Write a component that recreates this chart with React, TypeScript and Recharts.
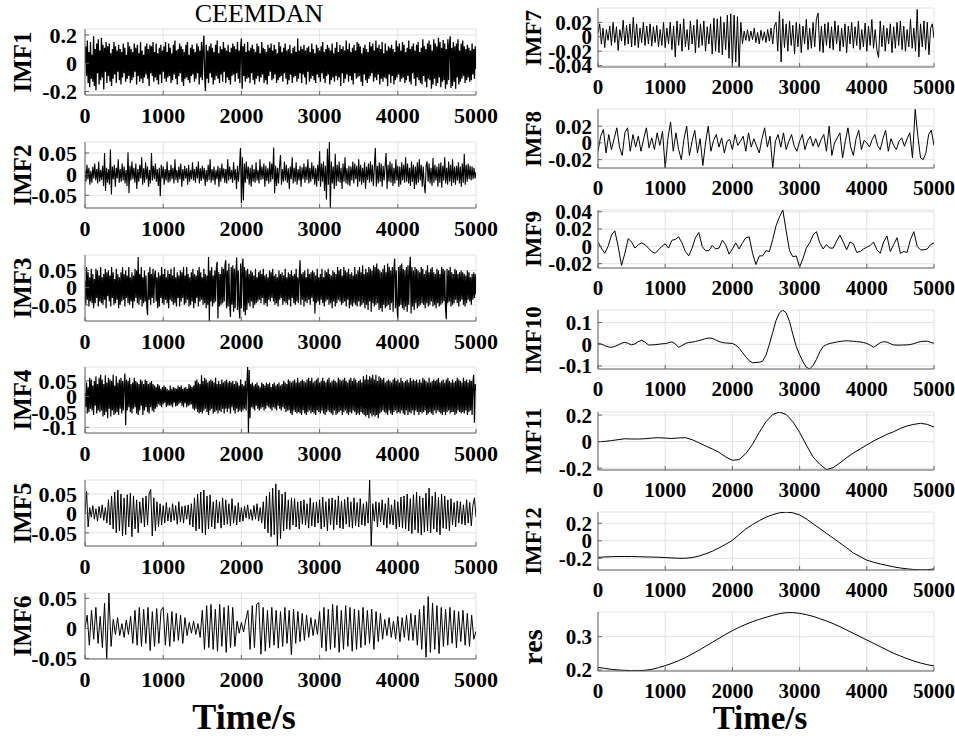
import React from "react";
import { LineChart, Line, XAxis, YAxis, CartesianGrid } from "recharts";

const FONT = '"Liberation Serif", "Times New Roman", serif';
const AXIS = "#666";
const T_END = 5000;
const timeTicks = [0, 1000, 2000, 3000, 4000, 5000];

// samples in units of 1e-3, evenly spaced over 0..5000 s
const imf1 = [
  0, 120, -90, 160, -140, 80, -170, 150, -110, 60,
  -130, 190, -160, 100, -190, 140, -70, 170, -150, 90,
  -120, 180, -100, 130, -185, 110, -60, 150, -140, 120,
  -90, 140, -130, 70, -160, 100, -110, 150, -80, 120,
  -140, 90, -60, 130, -120, 100, -150, 80, -100, 140,
  -70, 110, -130, 60, -110, 150, -90, 120, -140, 100,
  -120, 80, -100, 140, -60, 110, -150, 130, -90, 70,
  -130, 150, -110, 90, -140, 60, -100, 120, -80, 140,
  -110, 100, -160, 130, -70, 120, -90, 150, -130, 80,
  -100, 140, -120, 70, -150, 110, -80, 130, -140, 90,
  -60, 120, -110, 150, -130, 80, -100, 140, -90, 110,
  -140, 70, -120, 130, -80, 160, -110, 90, -150, 100,
  -90, 140, -70, 120, -130, 100, -160, 80, -110, 130,
  -100, 150, -120, 60, -140, 110, -90, 130, -80, 100,
  -130, 80, -110, 140, -70, 120, -150, 90, -100, 150,
  -120, 100, 195, -80, -195, 130, -110, 90, -140, 120,
  -70, 140, -100, 110, -150, 80, -120, 130, -90, 160,
  -110, 70, -140, 120, -80, 100, -130, 150, -60, 110,
  -140, 90, -100, 130, -120, 80, -150, 110, -90, 140,
  -80, 120, -130, 100, -70, 150, -110, 90, -140, 110,
  175, -180, 120, -90, 140, -130, 80, -110, 150, -100,
  90, -140, 110, -70, 130, -120, 100, -150, 80, -110,
  140, -90, 120, -130, 70, -100, 150, -80, 110, -140,
  100, -120, 80, -150, 130, -90, 110, -60, 140, -120,
  90, -110, 130, -80, 100, -140, 70, -120, 150, -100,
  120, -90, 80, -130, 110, -70, 140, -110, 90, -150,
  100, -120, 130, -80, 70, -140, 110, -100, 120, -90,
  80, -130, 175, -110, 90, -70, 120, -140, 100, -80,
  130, -100, 90, -150, 110, -60, 120, -130, 80, -110,
  140, -90, 100, -120, 70, -140, 130, -80, 110, -100,
  90, -130, 120, -70, 150, -110, 80, -140, 100, -90,
  130, -80, 110, -150, 90, -120, 140, -100, 70, -130,
  110, -90, 150, -120, 80, -100, 130, -160, 100, -70,
  120, -140, 90, -110, 160, -80, 100, -130, 140, -90,
  80, -120, 110, -150, 130, -70, 90, -110, 150, -100,
  140, -90, 120, -130, 70, -160, 110, -80, 130, -120,
  100, -140, 80, -110, 150, -90, 120, -70, 140, -130,
  90, -100, 160, -120, 110, -80, 130, -150, 100, -110,
  150, -130, 70, -100, 140, -110, 90, -160, 120, -80,
  110, -140, 130, -90, 100, -150, 80, -120, 160, -100,
  120, -80, 140, -130, 90, -110, 150, -100, 130, -140,
  80, -120, 110, -90, 160, -130, 100, -150, 120, -70,
  140, -110, 90, -160, 130, -100, 150, -120, 80, -140,
  110, -150, 170, -90, 120, -130, 100, -170, 140, -110,
  160, -120, 130, -180, 90, -150, 170, -110, 140, -160,
  120, -140, 180, -100, 150, -170, 110, -130, 165, -120,
  140, -180, 100, -150, 170, -120, 130, 190, -175, 110,
  -160, 150, -130, 120, -180, 140, -100, 170, -150, 90,
  -130, 140, -110, 160, -90, 120, -140, 100, -120, 130,
  -100, 110, -130, 90, -120, 140, -80, 100, -110, 120,
  -40,
];

const imf2 = [
  10, -18, 22, -12, 15, -25, 8, -20, 18, -10,
  25, -15, 12, -22, 30, -18, 10, -14, 20, -28,
  50, -40, 15, -20, 12, -25, 58, -48, 18, -12,
  22, -30, 15, -10, 35, -20, 12, -18, 25, -15,
  18, -22, 10, -28, 52, -45, 20, -15, 30, -12,
  15, -20, 25, -35, 12, -18, 22, -10, 40, -25,
  14, -20, 28, -12, 18, -30, 10, -22, 50, -15,
  20, -12, 25, -18, 12, -28, 15, -52, 22, -10,
  18, -25, 12, -15, 30, -20, 10, -18, 22, -12,
  15, -22, 35, -14, 10, -20, 18, -12, 25, -30,
  12, -16, 20, -10, 14, -25, 22, -18, 10, -12,
  28, -15, 12, -20, 18, -10, 30, -22, 14, -16,
  20, -12, 15, -28, 10, -18, 22, -14, 35, -20,
  12, -15, 18, -25, 10, -12, 20, -30, 15, -18,
  25, -10, 14, -20, 12, -22, 35, -15, 18, -12,
  10, -20, 28, -14, 12, -35, 20, -18, 15, 62,
  -68, 40, -62, 25, -20, 30, -12, 18, -25, 15,
  -30, 22, -18, 12, -20, 28, -15, 10, -22, 35,
  -14, 18, -12, 25, -30, 20, -16, 14, -22, 30,
  -18, 25, -12, 63, -45, 20, -28, 15, -22, 18,
  45, -25, 12, -18, 30, -15, 22, -20, 14, -35,
  18, -12, 40, -22, 15, -18, 28, -25, 12, -15,
  20, -30, 16, -12, 25, -20, 18, -14, 35, -22,
  15, -18, 28, -12, 20, -25, 14, -30, 22, -16,
  54, -30, 25, -18, 30, -40, 20, -60, 60, -25,
  76, -80, 30, -22, 18, -35, 48, -28, 22, -18,
  30, -20, 15, -35, 25, -18, 40, -22, 14, -25,
  20, -28, 18, -15, 30, -22, 25, -12, 20, -30,
  35, -18, 22, -25, 15, -20, 28, -35, 18, -14,
  25, -20, 30, -18, 22, -28, 15, 62, -30, 20,
  -22, 28, -18, 25, -30, 20, -15, 18, 50, -35,
  22, -18, 30, -20, 25, -28, 15, -22, 35, -15,
  20, -30, 18, -25, 28, -15, 22, -20, 40, -18,
  25, -22, 15, -28, 30, -18, 22, -35, 18, -25,
  28, -20, 35, -15, 22, -30, 18, -25, -45, 20,
  30, -18, 25, -22, 15, -28, 38, -20, 22, -15,
  18, -30, 25, -20, 28, -32, 20, -15, 40, -22,
  15, -25, 30, -18, 22, -28, 35, -20, 18, -25,
  20, -15, 28, -22, 18, -30, 25, -20, 48, -25,
  22, -18, 25, -12, 20, -15, 18, -12, 15, -10,
  5,
];

const imf3 = [
  20, -50, 60, -35, 45, -55, 30, -40, 55, -45,
  40, -60, 25, -45, 55, -30, 50, -55, 35, -40,
  60, -45, 30, -50, 40, -35, 55, -60, 45, -25,
  50, -40, 35, -55, 60, -30, 45, -50, 25, -45,
  55, -35, 40, -60, 30, -50, 45, -40, 60, -35,
  40, -55, 50, -30, 35, -45, 60, -50, 30, -40,
  45, -60, 35, -40, 55, -30, 50, -45, 89, -50,
  40, -35, 60, -55, 30, -45, 50, -40, 35, -55,
  -80, 45, -35, 60, -50, 40, -30, 55, -45, 35,
  50, -40, 30, -60, 45, -55, 35, -30, 60, -45,
  40, -50, 55, -35, 30, -45, 50, -60, 40, -35,
  55, -40, 35, -50, 60, -45, 30, -55, 45, -30,
  35, -55, 50, -40, 45, -30, 60, -50, 35, -45,
  60, -35, 40, -55, 30, -50, 45, -40, 55, -60,
  40, -45, 35, -30, 50, -55, 60, -40, 45, -35,
  30, -50, 55, -45, 40, -60, 35, -50, 89, -97,
  50, -40, 60, -55, 35, -45, 50, -40, 60, 75,
  -90, 45, -55, 40, -50, 60, -45, 55, -40, 65,
  80, -60, 50, -55, 70, -45, -85, 60, -50, 65,
  -70, 55, -60, 45, 88, -65, 50, -55, -90, 70,
  -60, 55, 85, -70, 60, -80, 50, -65, 55, -45,
  40, -55, 50, -40, 45, -60, 35, -50, 55, -45,
  30, -40, 45, -35, 50, -45, 40, -30, 55, -50,
  35, -45, 40, -55, 30, -35, 50, -40, 45, -30,
  55, -40, 35, -50, 40, -45, 30, -55, 50, -35,
  40, -30, 45, -50, 35, -40, 55, -45, 30, -50,
  45, -35, 40, -55, 50, -30, 35, -45, 40, -50,
  55, -40, 30, -45, 35, 80, -50, 40, -35, 45,
  -55, 50, -40, 30, -45, 55, -35, 40, -50, 45,
  -30, 50, -40, 45, -75, 35, -45, 55, -40, 30,
  -50, 40, -35, 55, -45, 30, -55, 50, -40, 45,
  -35, 55, -50, 40, -45, 35, -60, 50, -40, 45,
  -55, 40, -45, 60, -35, 50, -40, 55, -50, 35,
  -45, 60, -40, 50, -55, 45, -35, 55, -60, 40,
  -50, 45, -55, 35, -45, 60, -50, 40, -55, 50,
  -40, 60, -55, 45, -50, 65, -45, 40, -60, 55,
  -50, 45, -65, 60, -40, 55, -70, 50, -45, 65,
  -55, 60, -50, 70, -45, 55, -65, 50, -60, 45,
  -70, 55, -50, 65, -60, 45, -55, 70, -50, 60,
  -65, 50, -45, 60, -70, 55, 85, -60, 50, -55,
  -90, 60, -55, 65, -50, 70, -60, 55, -65, 50,
  -55, 60, -70, 65, -50, 55, 90, -75, 60, -55,
  50, -65, 60, -45, 55, -60, 50, -55, 45, -50,
  60, -45, 55, -50, 40, -60, 50, -45, 65, -55,
  45, -50, 55, -40, 60, -55, 45, -50, 40, -60,
  55, -45, 50, -55, 40, -50, 60, -45, 55, -40,
  50, -60, -92, 55, -45, 50, -40, 60, -55, 45,
  -50, 40, -45, 55, -35, 50, -45, 40, -55, 45,
  -40, 50, -35, 45, -50, 40, -55, 35, -45, 50,
  -35, 45, -40, 30, -50, 40, -35, 45, -30, 40,
  -20,
];

const imf4 = [
  10, -35, 45, -55, 30, -50, 60, -40, 55, -45,
  35, -60, 50, -30, 65, -55, 40, -45, 60, -50,
  70, -45, 55, -65, 40, -60, 68, -50, 45, -70,
  60, -40, 55, -65, 50, -45, 70, -60, 35, -55,
  65, -50, 45, -60, 55, -40, 60, -55, 50, -45,
  40, 74, -93, 55, -45, 50, -35, 60, -50, 40,
  -55, 45, -40, 60, -35, 50, -55, 45, -60, 40,
  -45, 55, -30, 50, -60, 40, -45, 55, -35, 50,
  -50, 40, -55, 45, -35, 50, -45, 40, -50, 35,
  -40, 30, -35, 40, -25, 35, -30, 25, -35, 30,
  -25, 35, -20, 30, -35, 25, -30, 20, -28, 35,
  -30, 25, -35, 30, -20, 28, -32, 25, -30, 35,
  -25, 30, -20, 35, -30, 25, -35, 28, -22, 30,
  -35, 25, -30, 40, -28, 35, -25, 30, -40, 35,
  -45, 50, -40, 55, -50, 45, -55, 40, -50, 68,
  -55, 50, -45, 60, -40, 55, -50, 45, -60, 50,
  -45, 55, -40, 50, -55, 45, -50, 60, -45, 40,
  -55, 50, -45, 40, -50, 55, -40, 45, -55, 50,
  -40, 55, -50, 45, -40, 50, -55, 45, -35, 50,
  -45, 40, -55, 50, -40, 45, -50, 35, -45, 55,
  -50, 40, -45, 35, -40, 50, -45, 40, 95, -118,
  85, -70, 40, -35, 45, -40, 35, -45, 40, -30,
  45, -40, 35, -45, 30, -40, 45, -35, 40, -45,
  35, -40, 45, -30, 40, -35, 45, -40, 30, -45,
  40, -35, 45, -40, 35, -45, 40, -30, 45, -40,
  35, -45, 40, -35, 50, -40, 45, -50, 40, -45,
  55, -45, 50, -55, 45, -60, 50, -45, 55, -50,
  45, -55, 60, -50, 45, -55, 50, -60, 55, -45,
  50, -55, 45, -60, 55, -50, 60, -45, 50, -55,
  60, -50, 45, -55, 50, -60, 55, -45, 60, -50,
  45, -55, 50, -45, 60, -55, 50, -60, 45, -50,
  55, -45, 60, -50, 45, -55, 50, -60, 55, -45,
  50, -60, 45, -55, 60, -50, 55, -45, 50, -60,
  55, -50, 60, -45, 50, -55, 45, -60, 55, -50,
  60, -55, 50, -45, 60, -50, 55, -60, 45, -55,
  50, -60, 55, -50, 45, -55, 65, -60, 55, -65,
  70, -60, 55, -70, 65, -55, 60, -65, 70, -60,
  55, -65, 70, -60, 50, -70, 65, -55, 60, -50,
  55, -45, 60, -50, 45, -55, 50, -60, 55, -45,
  50, -55, 45, -60, 55, -50, 60, -45, 50, -55,
  55, -50, 45, -55, 60, -45, 50, -55, 45, -60,
  50, -45, 55, -60, 45, -50, 60, -55, 50, -45,
  55, -60, 50, -45, 55, -50, 45, -60, 55, -50,
  45, -55, 60, -50, 55, -45, 50, -60, 45, -55,
  60, -50, 45, -55, 50, -60, 55, -45, 50, -55,
  55, -45, 60, -50, 45, -55, 50, -60, 55, -50,
  45, -60, 55, -50, 60, -45, 50, -55, 45, -50,
  55, -50, 45, -60, 50, -55, 60, -45, 55, -50,
  50, -55, 45, -50, 60, -55, 50, -45, 55, -60,
  45, -50, 55, -45, 50, -60, 45, 70, -85, 40,
  20,
];

const imf5 = [
  0, 56, -35, 15, -10, 20, -15, 12, -20, 18,
  -12, 22, -18, 15, -25, 35, -30, 45, -40, 55,
  -50, 60, -45, 50, -58, 40, -55, 48, -35, 52,
  -60, 45, -40, 35, -50, 30, -25, 40, -35, 45,
  -30, 50, 62, -58, 40, -45, 30, -35, 25, -30,
  20, -25, 28, -20, 15, -22, 25, -18, 20, -28,
  30, -22, 18, -25, 20, -15, 22, -30, 25, -35,
  40, -45, 50, -40, 55, -50, 60, -55, 45, -40,
  48, -35, 30, -40, 35, -25, 30, -38, 40, -30,
  35, -28, 25, -32, 38, -25, 20, -30, 28, -22,
  15, -20, 18, -12, 22, -15, 10, -18, 20, -15,
  25, -20, 15, -25, 30, -40, 45, -50, 55, -60,
  65, -55, 76, -84, 60, -65, 50, -45, 55, -40,
  35, -42, 40, -30, 38, -35, 30, -40, 32, -28,
  35, -30, 25, -38, 40, -32, 28, -35, 30, -25,
  35, -40, 42, -35, 30, -45, 38, -30, 40, -42,
  35, -30, 45, -38, 32, -40, 36, -28, 42, -35,
  30, -38, 40, -32, 28, -35, 38, -30, 25, -32,
  30, -25, 86, -84, 25, -20, 30, -35, 28, -22,
  35, -30, 25, -38, 40, -28, 22, -30, 35, -40,
  30, -35, 42, -38, 45, -40, 50, -45, 38, -52,
  48, -42, 55, -50, 45, -55, 40, -48, 52, -45,
  65, -50, 45, -40, 55, -48, 42, -55, 50, -38,
  45, -40, 35, -45, 38, -30, 28, -35, 32, -25,
  30, -28, 22, -30, 35, -25, 28, -32, 20, 40,
  -10,
];

const imf6 = [
  0, 22, -28, 30, -18, 35, -25, 20, -32, 42,
  -51, 59, -30, 15, -10, 18, -12, 8, -15, 14,
  -10, 20, -25, 30, -28, 35, -30, 32, -25, 35,
  -37, 28, -30, 33, -25, 30, 35, -28, 25, -30,
  28, -22, 25, -20, 22, -25, 18, -12, 10, -8,
  12, -10, 8, -15, 30, -35, 38, -32, 40, -35,
  32, -38, 40, -30, 35, -40, 38, -32, 35, -30,
  12, -8, 10, -6, 14, 30, -35, 38, -32, 40,
  43, -43, 35, -38, 30, -32, 35, -28, 30, -33,
  28, -30, 35, -25, 30, -44, 32, -25, 28, -22,
  25, -20, 22, -15, 18, -12, 15, -10, 28, -32,
  35, -38, 32, -35, 40, -32, 38, -40, 30, -35,
  38, -30, 35, -38, 32, -35, 30, -32, 35, -28,
  30, -25, 32, -35, 28, -22, 25, -18, 15, -12,
  18, -15, 12, -18, 20, -22, 18, -15, 22, -20,
  25, -20, 22, -28, 32, -35, 38, -48, 53, -40,
  42, -35, 38, -42, 35, -30, 32, -28, 35, -25,
  30, -32, 28, -22, 30, -28, 25, -30, 22, -18,
  -5,
];

const imf7 = [
  5, 18, -10, 12, -15, 10, -5, 15, -12, 20,
  -8, 14, -19, 10, -6, 23, -12, 16, -10, 18,
  -14, 27, -12, 18, -15, 12, -8, 20, -12, 15,
  -10, 18, -13, 14, -8, 16, -14, 10, -12, 20,
  -15, 12, -10, 20, -18, 15, -28, 22, -12, 18,
  -20, 25, -14, 10, -18, 22, -10, 16, -22, 24,
  -15, 18, -12, 22, -20, 14, -10, 18, -24, 26,
  -20, 25, -22, 28, -25, 20, -18, 30, -30, 32,
  -42, 30, -35, 28, -42, 20, -10, 8, -5, 10,
  -6, 8, -4, 12, -8, 6, -10, 9, -5, 7,
  -8, 10, -6, 12, -10, 15, 20, -20, 35, -35,
  25, -15, 18, -20, 22, -12, 16, -24, 20, -14,
  18, -22, 15, -10, 24, -18, 12, -16, 20, -14,
  25, 33, -20, 15, -22, 18, -12, 20, -16, 14,
  -18, 22, -10, 16, -20, 12, -14, 18, -22, 15,
  -10, 20, -16, 14, -12, 22, -18, 10, -14, 19,
  -20, 15, -12, 24, -16, 10, -18, -29, 22, -14,
  16, -20, 12, -10, 18, -22, 14, -16, 20, -12,
  22, -18, 15, -20, 10, -14, 24, -16, 12, -20,
  38, -28, 18, -14, 22, -18, 20, -25, 12, 18,
  -2,
];

const imf8 = [
  -10, 8, 16, -12, 10, -8, 5, 18, -5, -15,
  12, 18, -10, 10, -5, 8, -10, 5, 18, -6,
  6, -8, 12, -3, 14, -30, 5, 25, -10, 12,
  -8, -20, 5, 20, -15, 2, 15, -12, 5, -27,
  0, 20, -10, 3, 10, -5, 6, -12, 2, 4,
  -8, 10, -3, 2, 8, -10, 12, -5, 5, -4,
  -12, 5, 18, -5, 8, -30, 2, 10, -5, 12,
  -8, 2, 10, -4, -10, 2, 10, -8, 3, 8,
  -4, 5, -5, 4, 10, -10, 20, -15, 0, 6,
  12, -18, 2, 18, -5, -15, 5, 15, -8, 3,
  0, -5, 4, 10, -3, -8, 5, 15, -10, 5,
  -3, -8, 2, 6, -4, 5, 12, -18, 40, 8,
  -18, -20, -12, 10, 15, -3,
];

const imf9 = [
  5, -2, -8, 0, 13, 18, 0, -22, -8, 9,
  5, -2, 2, 4, 2, -2, -6, -8, -4, 0,
  3, -2, 7, 8, 11, 4, -6, -11, -2, 10,
  16, 0, -5, -5, 1, -3, -2, 7, 2, -9,
  -3, 4, -3, 4, 10, 11, -8, -21, -11, -11,
  -5, -6, 8, 24, 34, 42, 18, -5, -12, -11,
  -24, -14, -2, 4, 13, 17, 4, -3, 2, -2,
  -2, 6, 13, 5, -4, 5, 3, -7, -6, -3,
  -1, 1, 5, -4, -8, 5, 12, -6, 2, 10,
  -8, -6, -7, 8, 17, 0, -4, -4, -3, 2,
  4,
];

const imf10 = [
  3, 1, -6, -12, -14, -10, -3, 5, 9, 4,
  -3, 2, 12, 18, 10, -3, -3, -2, 0, 2,
  3, 7, 11, 2, -14, -6, 4, 8, 10, 13,
  17, 21, 26, 29, 27, 20, 13, 8, 6, 5,
  4, -4, -18, -38, -58, -76, -85, -84, -83, -78,
  -50, 0, 55, 110, 145, 157, 145, 105, 45, -10,
  -48, -80, -106, -114, -98, -70, -35, -10, -2, 4,
  7, 10, 13, 15, 16, 15, 14, 12, 11, 8,
  4, -4, -14, -4, 7, 12, 10, 3, -3, -4,
  -4, -3, -3, -1, 3, 8, 12, 14, 14, 9,
  5,
];

const imf11 = [
  0, 2, 8, 15, 22, 20, 20, 22, 27, 30,
  27, 24, 28, 30, 15, -8, -32, -55, -80, -115,
  -140, -135, -90, -20, 70, 150, 205, 222, 205, 150,
  70, -25, -115, -170, -210, -195, -160, -120, -85, -55,
  -25, 5, 30, 55, 75, 100, 118, 130, 138, 130,
  110,
];

const imf12 = [
  -190, -185, -182, -180, -180, -180, -182, -184, -186, -188,
  -192, -196, -200, -200, -192, -175, -150, -120, -82, -40,
  5, 70, 135, 185, 230, 270, 298, 320, 328, 320,
  295, 250, 195, 140, 85, 30, -25, -80, -140, -180,
  -222, -245, -265, -282, -298, -311, -321, -328, -332, -331,
  -322,
];

const res = [
  208, 205, 202, 200, 199, 198, 198, 199, 202, 207,
  213, 220, 228, 237, 248, 259, 271, 283, 295, 307,
  318, 328, 337, 345, 352, 358, 364, 369, 372, 372,
  370, 366, 361, 354, 347, 339, 330, 320, 310, 300,
  290, 280, 270, 260, 250, 242, 234, 227, 221, 216,
  212,
];

type Column = {
  svgLeft: number;
  yw: number;
  pw: number;
  mr: number;
  tickFont: number;
  titleFont: number;
  titleX: number;
  yGap: number;
};

const LEFT: Column = { svgLeft: 0, yw: 85, pw: 391, mr: 30, tickFont: 22, titleFont: 25, titleX: 22, yGap: 8 };
const RIGHT: Column = { svgLeft: 480, yw: 118, pw: 336, mr: 21, tickFont: 21, titleFont: 23, titleX: 533, yGap: 6 };

type PanelDef = {
  name: string;
  values: number[];
  col: Column;
  top: number;
  bottom: number;
  domain: [number, number];
  yTicks: number[];
  lineWidth?: number;
  titleSize?: number;
  titleShift?: number;
};

const panels: PanelDef[] = [
  { name: "IMF1", values: imf1, col: LEFT, top: 29, bottom: 95, domain: [-0.224, 0.242], yTicks: [-0.2, 0, 0.2], lineWidth: 1.3 },
  { name: "IMF2", values: imf2, col: LEFT, top: 142, bottom: 208, domain: [-0.08, 0.076], yTicks: [-0.05, 0, 0.05], lineWidth: 1.1 },
  { name: "IMF3", values: imf3, col: LEFT, top: 255, bottom: 321, domain: [-0.097, 0.095], yTicks: [-0.05, 0, 0.05], lineWidth: 1.2 },
  { name: "IMF4", values: imf4, col: LEFT, top: 367, bottom: 433, domain: [-0.118, 0.095], yTicks: [-0.1, -0.05, 0, 0.05], lineWidth: 1.2 },
  { name: "IMF5", values: imf5, col: LEFT, top: 480, bottom: 546, domain: [-0.084, 0.086], yTicks: [-0.05, 0, 0.05] },
  { name: "IMF6", values: imf6, col: LEFT, top: 593, bottom: 659, domain: [-0.051, 0.059], yTicks: [-0.05, 0, 0.05] },
  { name: "IMF7", values: imf7, col: RIGHT, top: 8, bottom: 67, domain: [-0.042, 0.04], yTicks: [-0.04, -0.02, 0, 0.02] },
  { name: "IMF8", values: imf8, col: RIGHT, top: 109, bottom: 168, domain: [-0.03, 0.0405], yTicks: [-0.02, 0, 0.02] },
  { name: "IMF9", values: imf9, col: RIGHT, top: 210, bottom: 268, domain: [-0.025, 0.042], yTicks: [-0.02, 0, 0.02, 0.04] },
  { name: "IMF10", values: imf10, col: RIGHT, top: 310, bottom: 369, domain: [-0.114, 0.158], yTicks: [-0.1, 0, 0.1] },
  { name: "IMF11", values: imf11, col: RIGHT, top: 412, bottom: 470, domain: [-0.213, 0.223], yTicks: [-0.2, 0, 0.2] },
  { name: "IMF12", values: imf12, col: RIGHT, top: 512, bottom: 570, domain: [-0.334, 0.329], yTicks: [-0.2, 0, 0.2] },
  { name: "res", values: res, col: RIGHT, top: 612, bottom: 671, domain: [0.197, 0.374], yTicks: [0.2, 0.3], titleSize: 28, titleShift: 5 },
];

const MT = 14;
const XH = 34;

function Panel({ p }: { p: PanelDef }) {
  const { col } = p;
  const ph = p.bottom - p.top;
  const n = p.values.length;
  const data = p.values.map((v, i) => ({ t: (i * T_END) / (n - 1), v: v / 1000 }));
  const tickStyle = { fontFamily: FONT, fontWeight: 700, fontSize: col.tickFont, fill: "#000" };

  return (
    <div style={{ position: "absolute", left: col.svgLeft, top: p.top - MT, fontFamily: FONT, fontWeight: 700 }}>
      <LineChart
        width={col.yw + col.pw + col.mr}
        height={MT + ph + XH}
        data={data}
        margin={{ top: MT, right: col.mr, bottom: 0, left: 0 }}
        style={{ fontFamily: FONT }}
      >
        <CartesianGrid stroke="#e2e2e2" strokeWidth={1} />
        <XAxis
          dataKey="t"
          type="number"
          domain={[0, T_END]}
          ticks={timeTicks}
          interval={0}
          allowDataOverflow
          height={XH}
          tick={tickStyle}
          tickSize={-4}
          tickMargin={16}
          tickLine={{ stroke: AXIS }}
          axisLine={{ stroke: AXIS }}
        />
        <XAxis
          xAxisId="top"
          orientation="top"
          type="number"
          domain={[0, T_END]}
          ticks={timeTicks}
          height={0}
          tick={false}
          tickLine={false}
          axisLine={{ stroke: AXIS }}
        />
        <YAxis
          type="number"
          domain={p.domain}
          ticks={p.yTicks}
          interval={0}
          allowDataOverflow
          width={col.yw}
          tick={tickStyle}
          tickSize={-4}
          tickMargin={4 + col.yGap}
          tickLine={{ stroke: AXIS }}
          axisLine={{ stroke: AXIS }}
        />
        <YAxis
          yAxisId="r"
          orientation="right"
          type="number"
          domain={p.domain}
          width={0}
          tick={false}
          tickLine={false}
          axisLine={{ stroke: AXIS }}
        />
        <Line
          type="linear"
          dataKey="v"
          stroke="#000"
          strokeWidth={p.lineWidth ?? 1}
          dot={false}
          isAnimationActive={false}
        />
      </LineChart>
    </div>
  );
}

function AxisTitle({ p }: { p: PanelDef }) {
  const cy = (p.top + p.bottom) / 2 + (p.titleShift ?? 0);
  return (
    <div
      style={{
        position: "absolute",
        left: p.col.titleX,
        top: cy,
        transform: "translate(-50%, -50%) rotate(-90deg)",
        fontFamily: FONT,
        fontWeight: 700,
        fontSize: p.titleSize ?? p.col.titleFont,
        lineHeight: 1,
        whiteSpace: "nowrap",
        color: "#000",
      }}
    >
      {p.name}
    </div>
  );
}

function Caption({ text, x, top, size, bold }: { text: string; x: number; top: number; size: number; bold?: boolean }) {
  return (
    <div
      style={{
        position: "absolute",
        left: x,
        top,
        transform: "translateX(-50%)",
        fontFamily: FONT,
        fontWeight: bold ? 700 : 400,
        fontSize: size,
        lineHeight: 1,
        whiteSpace: "nowrap",
        color: "#000",
      }}
    >
      {text}
    </div>
  );
}

export default function App() {
  return (
    <div style={{ position: "absolute", left: 0, top: 0, width: 955, height: 736, background: "#fff", overflow: "hidden", fontFamily: FONT }}>
      {panels.map((p) => (
        <Panel key={p.name} p={p} />
      ))}
      {panels.map((p) => (
        <AxisTitle key={p.name + "-t"} p={p} />
      ))}
      <Caption text="CEEMDAN" x={259} top={1} size={26} />
      <Caption text="Time/s" x={244} top={699} size={36} bold />
      <Caption text="Time/s" x={760} top={702} size={33} bold />
    </div>
  );
}
